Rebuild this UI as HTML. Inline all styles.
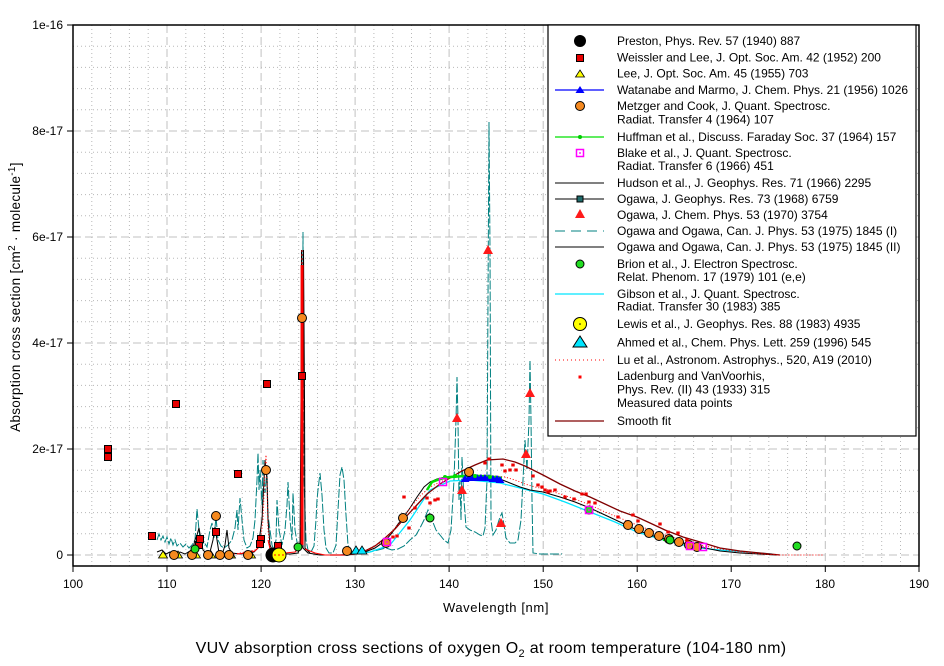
<!DOCTYPE html>
<html><head><meta charset="utf-8"><style>
html,body{margin:0;padding:0;background:#fff;}
svg{display:block;font-family:"Liberation Sans",Arial,sans-serif;}
</style></head><body>
<svg width="944" height="666" viewBox="0 0 944 666" xmlns="http://www.w3.org/2000/svg">
<defs>
<circle id="oc" r="4.5" fill="#f5891f" stroke="#000" stroke-width="1"/>
<rect id="rs" x="-3.5" y="-3.5" width="7" height="7" fill="#e80000" stroke="#000" stroke-width="1"/>
<polygon id="yt" points="0,-4 4.5,3 -4.5,3" fill="#ffff00" stroke="#000" stroke-width="0.8"/>
<circle id="gc" r="4" fill="#22dd22" stroke="#000" stroke-width="1"/>
<polygon id="rt" points="0,-5 5,4 -5,4" fill="#ff1a1a"/>
<g id="ms"><rect x="-3.5" y="-3.5" width="7" height="7" fill="none" stroke="#ff00ff" stroke-width="1.5"/><rect x="-0.8" y="-0.8" width="1.6" height="1.6" fill="#ff00ff"/></g>
<rect id="rd" x="-1.7" y="-1.5" width="3.4" height="3" fill="#ee0000"/>
<polygon id="bt" points="0,-4 4.5,3 -4.5,3" fill="#0000ff"/>
</defs>

<!-- grid minor -->
<g stroke="#b8b8b8" stroke-width="1" stroke-dasharray="1,3">
<path d="M91.8 25V566M110.6 25V566M129.4 25V566M148.2 25V566M185.8 25V566M204.6 25V566M223.4 25V566M242.3 25V566M279.9 25V566M298.7 25V566M317.5 25V566M336.3 25V566M373.9 25V566M392.7 25V566M411.5 25V566M430.3 25V566M467.9 25V566M486.8 25V566M505.6 25V566M524.4 25V566M562 25V566M580.8 25V566M599.6 25V566M618.4 25V566M656 25V566M674.8 25V566M693.6 25V566M712.4 25V566M750 25V566M768.8 25V566M787.6 25V566M806.5 25V566M844.1 25V566M862.9 25V566M881.7 25V566M900.5 25V566"/>
<path d="M73 533.8H919M73 512.6H919M73 491.4H919M73 470.2H919M73 427.8H919M73 406.6H919M73 385.4H919M73 364.2H919M73 321.8H919M73 300.6H919M73 279.4H919M73 258.2H919M73 215.8H919M73 194.6H919M73 173.4H919M73 152.2H919M73 109.8H919M73 88.6H919M73 67.4H919M73 46.2H919"/>
</g>
<g stroke="#c0c0c0" stroke-width="1" stroke-dasharray="8,4">
<path d="M167 25V566M261.1 25V566M355.1 25V566M449.1 25V566M543.2 25V566M637.2 25V566M731.2 25V566M825.3 25V566"/>
<path d="M73 555H919M73 449H919M73 343H919M73 237H919M73 131H919"/>
</g>

<!-- Teal dashed (Ogawa & Ogawa I) -->
<path fill="none" stroke="#008080" stroke-width="1" stroke-dasharray="9,2" d="M157 540L159 534L161 540L163 536L165 542L167 537L169 544L171 538L173 545L175 540L177 546L180 543L183 547L186 544L189 548L192 545L195 540L197 509L199 530L201 546L204 542L207 547L210 530L212 523L214 538L216 517L218 540L221 546L224 548L228 545L232 540L235 528L237 510L238 530L240 498L242 520L244 540L247 548L250 546L253 538L255 520L257 480L258 453L259 490L260 470L262 505L263 460L264 480L265 493L267 470L268 515L270 530L272 545L274 550L276 540L277 500L279 530L282 545L285 530L287 505L288 482L290 520L292 540L293 493L295 530L298 548L300 545L302 500L303 232L304 480L306 540L308 550L311 552L314 546L316 520L317 500L318 490L320 473L322 495L324 530L326 548L329 553L333 553L336 545L338 510L340 475L342 467L344 480L346 515L348 545L351 553L356 554L362 553L370 552L378 550L386 548L392 550L398 549L404 546L410 540L416 535L420 528L424 520L428 510L432 520L436 530L440 535L444 540L448 543L451 530L454 480L456 420L457 377L458 420L459 500L460 480L461 520L462 457L464 500L466 527L470 530L475 532L480 535L483 536L485 528L487 480L488 300L489 122L490 250L491 520L493 535L496 530L499 520L501 515L502 513L504 525L506 538L510 543L515 543L518 540L521 520L523 480L525 440L527 470L529 420L530 360L531 420L532 500L533 553L540 554L550 554L562 554"/>

<!-- Cyan Gibson -->
<path fill="none" stroke="#00e5ff" stroke-width="1.3" d="M355 554L370 552L390 545L410 520L430 490L450 481L470 480L500 483L520 488L543 494L565 502L590 512L615 522L637 532L660 539L683 545L700 548L720 550L745 552L772 554"/>

<!-- Black Hudson / Ogawa -->
<path fill="none" stroke="#000" stroke-width="1" d="M157 552L162 550L166 554L170 552L175 555L180 552L185 554L190 551L193 548L195 540L197 535L199 528L201 540L203 550L206 553L210 552L213 540L215 527L217 540L219 553L223 552L225 545L227 530L229 548L232 553L240 554L248 553L254 552L258 548L262 520L264 480L265 460L267 480L268 520L270 545L273 552L280 554L290 554L298 553L300 548L301 400L301.5 250L302 400L303 548L308 553L320 555L340 555L355 554L365 552L375 548L385 541L392 533L398 524L403 518L410 508L417 497L424 487L430 482L437 479L445 477L455 476L470 476L480 476L490 477L500 479L510 483L520 487L530 490L543 492L560 497L575 502L590 508L605 515L620 522L637 530L650 535L665 539L683 543L700 547L720 551L740 553L760 554L777 555"/>
<path fill="none" stroke="#000" stroke-width="1" d="M300 550L303 500L303.5 250L304.5 400L305 548L310 553"/>

<!-- Dark red smooth fit -->
<path fill="none" stroke="#800000" stroke-width="1.3" d="M330 555L345 555L355 554L365 551L375 546L385 538L395 529L403 520L415 507L427 494L440 484L450 478L462 471L475 465L487 460L503 459L515 462L525 466L533 470L543 475L560 484L575 491L590 497L605 504L620 511L637 517L650 523L665 530L683 537L700 542L720 548L740 551L760 553L780 555"/>

<!-- Red Lu -->
<path fill="none" stroke="#ff0000" stroke-width="1" d="M237 554L245 553L255 551L260 546L263 540M268 540L270 549L275 553L285 553L295 552L299 548M305 549L315 553L325 555L345 555"/>
<path fill="none" stroke="#ff0000" stroke-width="1" stroke-dasharray="1,2" d="M225 553L235 554L245 552L255 550L260 545L263 520L265 470L266 455L267 480L268 530L270 548M345 555L350 554L360 552L370 549L380 543L390 534L400 522L410 508L420 496L430 487L440 482L450 478L465 476L480 475L495 476L505 477L515 480L525 484L535 487L545 489L560 494L575 499L590 505L605 512L620 518L637 525L650 530L665 535L683 540L700 545L720 549L740 552L760 554L780 555L823 555"/>
<rect x="300.6" y="265" width="3" height="280" fill="#ff0000"/>
<path fill="none" stroke="#ff0000" stroke-width="1" stroke-dasharray="2,2" d="M302 250V266"/>

<!-- Green Huffman -->
<path fill="none" stroke="#00e000" stroke-width="2.5" d="M427 490L432 482L440 479L450 477L465 476L480 476L495 477L502 478"/>
<path fill="none" stroke="#00e000" stroke-width="2" d="M663 540L673 541"/>

<!-- Blue Watanabe band -->
<path fill="none" stroke="#0000ff" stroke-width="1" d="M463 480L502 481"/>
<g>
<use href="#bt" x="465" y="479"/><use href="#bt" x="469" y="478"/><use href="#bt" x="473" y="478"/><use href="#bt" x="477" y="478"/><use href="#bt" x="481" y="478"/><use href="#bt" x="485" y="478"/><use href="#bt" x="489" y="478"/><use href="#bt" x="493" y="479"/><use href="#bt" x="497" y="479"/><use href="#bt" x="500" y="480"/>
</g>
<g fill="#00dd00"><circle cx="445" cy="477" r="2"/><circle cx="455" cy="476" r="2"/><circle cx="475" cy="476" r="2"/><circle cx="490" cy="477" r="2"/></g>

<!-- Lee triangles -->
<g><use href="#yt" x="163" y="555"/><use href="#yt" x="178" y="555"/><use href="#yt" x="196" y="555"/><use href="#yt" x="211" y="555"/><use href="#yt" x="231" y="555"/><use href="#yt" x="251" y="555"/></g>

<!-- Orange Metzger -->
<g><use href="#oc" x="174" y="555"/><use href="#oc" x="192" y="555"/><use href="#oc" x="208" y="555"/><use href="#oc" x="220" y="555"/><use href="#oc" x="229" y="555"/><use href="#oc" x="248" y="555"/><use href="#oc" x="216" y="516"/><use href="#oc" x="266" y="470"/><use href="#oc" x="302" y="318"/><use href="#oc" x="347" y="551"/><use href="#oc" x="386" y="543"/><use href="#oc" x="403" y="518"/><use href="#oc" x="469" y="472"/><use href="#oc" x="628" y="525"/><use href="#oc" x="639" y="529"/><use href="#oc" x="649" y="533"/><use href="#oc" x="659" y="536"/><use href="#oc" x="669" y="539"/><use href="#oc" x="679" y="542"/><use href="#oc" x="689" y="545"/><use href="#oc" x="697" y="547"/></g>

<!-- Red squares Weissler -->
<g><use href="#rs" x="108" y="449"/><use href="#rs" x="108" y="457"/><use href="#rs" x="176" y="404"/><use href="#rs" x="267" y="384"/><use href="#rs" x="238" y="474"/><use href="#rs" x="152" y="536"/><use href="#rs" x="302" y="376"/><use href="#rs" x="199" y="545"/><use href="#rs" x="200" y="539"/><use href="#rs" x="216" y="532"/><use href="#rs" x="261" y="539"/><use href="#rs" x="260" y="544"/><use href="#rs" x="278" y="546"/></g>

<!-- Preston & Lewis -->
<circle cx="273" cy="555" r="7.5" fill="#000"/>
<circle cx="279" cy="555" r="7" fill="#ffff00" stroke="#000" stroke-width="1"/>
<path d="M274 555H284" stroke="#ff0000" stroke-width="1" stroke-dasharray="2,2"/>

<!-- Green Brion -->
<g><use href="#gc" x="195" y="549"/><use href="#gc" x="298" y="547"/><use href="#gc" x="430" y="518"/><use href="#gc" x="589" y="510"/><use href="#gc" x="670" y="540"/><use href="#gc" x="797" y="546"/></g>

<!-- Red triangles Ogawa 1970 -->
<g><use href="#rt" x="488" y="250"/><use href="#rt" x="457" y="418"/><use href="#rt" x="530" y="393"/><use href="#rt" x="462" y="490"/><use href="#rt" x="501" y="523"/><use href="#rt" x="526" y="454"/></g>

<!-- Ahmed cyan triangles -->
<polygon points="356,546 361,554 351,554" fill="#00e5ff" stroke="#000" stroke-width="0.8"/>
<polygon points="362,546 367,554 357,554" fill="#00e5ff" stroke="#000" stroke-width="0.8"/>

<!-- Blake magenta -->
<g><use href="#ms" x="387" y="542"/><use href="#ms" x="443" y="482"/><use href="#ms" x="589" y="510"/><use href="#ms" x="690" y="546"/><use href="#ms" x="703" y="547"/></g>

<!-- Ladenburg dots -->
<g><use href="#rd" x="404" y="497"/><use href="#rd" x="409" y="528"/><use href="#rd" x="427" y="498"/><use href="#rd" x="430" y="503"/><use href="#rd" x="435" y="500"/><use href="#rd" x="438" y="499"/><use href="#rd" x="393" y="537"/><use href="#rd" x="397" y="536"/><use href="#rd" x="415" y="508"/><use href="#rd" x="485" y="463"/><use href="#rd" x="489" y="459"/><use href="#rd" x="502" y="465"/><use href="#rd" x="505" y="471"/><use href="#rd" x="510" y="470"/><use href="#rd" x="513" y="465"/><use href="#rd" x="516" y="470"/><use href="#rd" x="533" y="476"/><use href="#rd" x="538" y="485"/><use href="#rd" x="542" y="487"/><use href="#rd" x="545" y="490"/><use href="#rd" x="548" y="492"/><use href="#rd" x="550" y="491"/><use href="#rd" x="555" y="490"/><use href="#rd" x="565" y="497"/><use href="#rd" x="574" y="499"/><use href="#rd" x="582" y="494"/><use href="#rd" x="586" y="494"/><use href="#rd" x="589" y="502"/><use href="#rd" x="595" y="503"/><use href="#rd" x="618" y="517"/><use href="#rd" x="633" y="515"/><use href="#rd" x="638" y="521"/><use href="#rd" x="660" y="524"/><use href="#rd" x="668" y="532"/><use href="#rd" x="678" y="533"/><use href="#rd" x="687" y="540"/></g>

<!-- Axes box -->
<rect x="73" y="25" width="846" height="541" fill="none" stroke="#000" stroke-width="1.5"/>
<g stroke="#000" stroke-width="1">
<path d="M67 25H73M67 131H73M67 237H73M67 343H73M67 449H73M67 555H73"/>
<path d="M73 566V572M167 566V572M261.1 566V572M355.1 566V572M449.1 566V572M543.2 566V572M637.2 566V572M731.2 566V572M825.3 566V572M919 566V572"/>
</g>

<!-- Tick labels -->
<g font-size="12" fill="#000" text-anchor="end">
<text x="63" y="29">1e-16</text><text x="63" y="135">8e-17</text><text x="63" y="241">6e-17</text><text x="63" y="347">4e-17</text><text x="63" y="453">2e-17</text><text x="63" y="559">0</text>
</g>
<g font-size="12" fill="#000" text-anchor="middle">
<text x="73" y="588">100</text><text x="167" y="588">110</text><text x="261" y="588">120</text><text x="355" y="588">130</text><text x="449" y="588">140</text><text x="543" y="588">150</text><text x="637" y="588">160</text><text x="731" y="588">170</text><text x="825" y="588">180</text><text x="919" y="588">190</text>
</g>
<text x="496" y="612" font-size="13" letter-spacing="0.6" text-anchor="middle">Wavelength [nm]</text>
<text transform="translate(20,297) rotate(-90)" font-size="13.5" letter-spacing="0.3" text-anchor="middle">Absorption cross section [cm<tspan dy="-5" font-size="10">2</tspan><tspan dy="5"> · molecule</tspan><tspan dy="-5" font-size="10">-1</tspan><tspan dy="5">]</tspan></text>
<text x="491" y="653" font-size="16" letter-spacing="0.35" text-anchor="middle">VUV  absorption cross sections of oxygen O<tspan dy="4" font-size="11">2</tspan><tspan dy="-4"> at room temperature (104-180 nm)</tspan></text>

<!-- Legend -->
<rect x="548" y="25" width="368" height="411" fill="#fff" stroke="#000" stroke-width="1.2"/>
<g>
<circle cx="580" cy="41" r="6" fill="#000"/>
<use href="#rs" x="580" y="58"/>
<use href="#yt" x="580" y="74"/>
<path d="M555 90H604" stroke="#0000ff" stroke-width="1.2"/><use href="#bt" x="580" y="90"/>
<use href="#oc" x="580" y="106"/>
<path d="M555 137H604" stroke="#00e000" stroke-width="1.2"/><circle cx="580" cy="137" r="2" fill="#00cc00"/>
<use href="#ms" x="580" y="153"/>
<path d="M555 183H604" stroke="#000" stroke-width="1"/>
<path d="M555 199H604" stroke="#000" stroke-width="1"/><rect x="577" y="196" width="6" height="6" fill="#1f6b6b" stroke="#000" stroke-width="1"/>
<use href="#rt" x="580" y="214"/>
<path d="M555 231H604" stroke="#008080" stroke-width="1" stroke-dasharray="10,6"/>
<path d="M555 247H604" stroke="#000" stroke-width="1"/>
<use href="#gc" x="580" y="264"/>
<path d="M555 294H604" stroke="#00e5ff" stroke-width="1.2"/>
<circle cx="580" cy="324" r="6.5" fill="#ffff00" stroke="#000" stroke-width="1"/><circle cx="580" cy="324" r="0.8" fill="#000"/>
<polygon points="580,336 587,347 573,347" fill="#00e5ff" stroke="#000" stroke-width="1"/>
<path d="M555 360H604" stroke="#ff0000" stroke-width="1" stroke-dasharray="1,3"/>
<rect x="578.5" y="375.5" width="3" height="3" fill="#ff0000"/>
<path d="M555 421H604" stroke="#800000" stroke-width="1.3"/>
</g>
<g font-size="12" fill="#000">
<text x="617" y="45">Preston, Phys. Rev. 57 (1940) 887</text>
<text x="617" y="61.5">Weissler and Lee, J. Opt. Soc. Am. 42 (1952) 200</text>
<text x="617" y="77.5">Lee, J. Opt. Soc. Am. 45 (1955) 703</text>
<text x="617" y="94">Watanabe and Marmo, J. Chem. Phys. 21 (1956) 1026</text>
<text x="617" y="110">Metzger and Cook, J. Quant. Spectrosc.</text>
<text x="617" y="123.5">Radiat. Transfer 4 (1964) 107</text>
<text x="617" y="141">Huffman et al., Discuss. Faraday Soc. 37 (1964) 157</text>
<text x="617" y="157">Blake et al., J. Quant. Spectrosc.</text>
<text x="617" y="170">Radiat. Transfer 6 (1966) 451</text>
<text x="617" y="187">Hudson et al., J. Geophys. Res. 71 (1966) 2295</text>
<text x="617" y="203">Ogawa, J. Geophys. Res. 73 (1968) 6759</text>
<text x="617" y="219">Ogawa, J. Chem. Phys. 53 (1970) 3754</text>
<text x="617" y="235">Ogawa and Ogawa, Can. J. Phys. 53 (1975) 1845 (I)</text>
<text x="617" y="251">Ogawa and Ogawa, Can. J. Phys. 53 (1975) 1845 (II)</text>
<text x="617" y="268">Brion et al., J. Electron Spectrosc.</text>
<text x="617" y="281">Relat. Phenom. 17 (1979) 101 (e,e)</text>
<text x="617" y="298">Gibson et al., J. Quant. Spectrosc.</text>
<text x="617" y="310.5">Radiat. Transfer 30 (1983) 385</text>
<text x="617" y="328">Lewis et al., J. Geophys. Res. 88 (1983) 4935</text>
<text x="617" y="346.5">Ahmed et al., Chem. Phys. Lett. 259 (1996) 545</text>
<text x="617" y="364">Lu et al., Astronom. Astrophys., 520, A19 (2010)</text>
<text x="617" y="380">Ladenburg and VanVoorhis,</text>
<text x="617" y="393.5">Phys. Rev. (II) 43 (1933) 315</text>
<text x="617" y="407">Measured data points</text>
<text x="617" y="425">Smooth fit</text>
</g>
</svg>
</body></html>
